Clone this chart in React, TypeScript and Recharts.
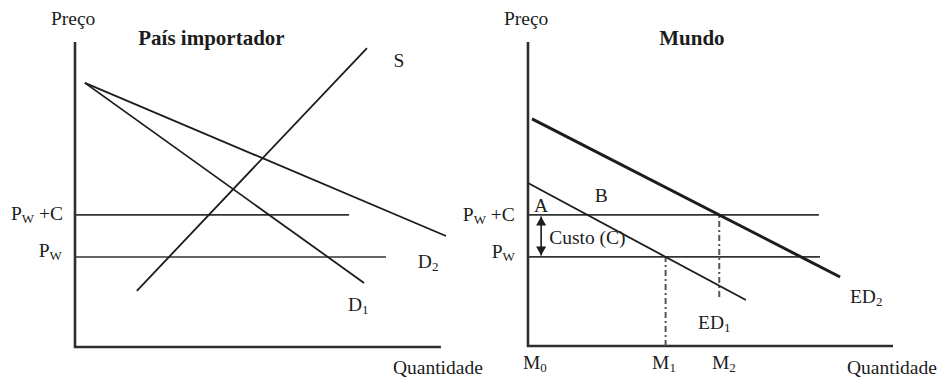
import React from 'react';
import { LineChart, Line, XAxis, YAxis, ReferenceDot } from 'recharts';

// ---------- Left panel: País importador (q = quantity, p = price) ----------
const leftAxes = [{ q: 0, p: 100 }, { q: 0, p: 0 }, { q: 100, p: 0 }];
const leftSupply = [{ q: 16.9, p: 18.4 }, { q: 79.8, p: 98.0 }];
const leftD1 = [{ q: 2.7, p: 86.6 }, { q: 79.0, p: 21.0 }];
const leftD2 = [{ q: 2.7, p: 86.6 }, { q: 101.4, p: 36.4 }];
const leftPwC = [{ q: 0, p: 43.3 }, { q: 74.9, p: 43.3 }];
const leftPw = [{ q: 0, p: 29.5 }, { q: 85, p: 29.5 }];

// ---------- Right panel: Mundo ----------
const rightAxes = [{ q: 0, p: 100 }, { q: 0, p: 0 }, { q: 100, p: 0 }];
const rightED2 = [{ q: 1.1, p: 74.7 }, { q: 85.5, p: 22.7 }];
const rightED1 = [{ q: 0, p: 53.6 }, { q: 59.7, p: 15.1 }];
const rightPwC = [{ q: 0, p: 43.1 }, { q: 79.7, p: 43.1 }];
const rightPw = [{ q: 0, p: 29.3 }, { q: 80, p: 29.3 }];
const rightM1 = [{ q: 37.7, p: 0 }, { q: 37.7, p: 29.3 }];
const rightM2 = [{ q: 52.4, p: 16.1 }, { q: 52.4, p: 43.1 }];
const rightCost = [{ q: 3.6, p: 42.6 }, { q: 3.6, p: 29.8 }];

// ---------- Text labels (anchored in data units) ----------
type Lbl = { main: string; sub?: string; rest?: string; q: number; p: number; anchor: 'start' | 'middle' | 'end'; bold?: boolean };

const leftLabels: Lbl[] = [
  { main: 'Preço', q: -0.5, p: 105.6, anchor: 'middle' },
  { main: 'País importador', q: 37.3, p: 99.0, anchor: 'middle', bold: true },
  { main: 'S', q: 88.5, p: 91.8, anchor: 'middle' },
  { main: 'D', sub: '1', q: 74.6, p: 11.8, anchor: 'start' },
  { main: 'D', sub: '2', q: 93.7, p: 25.9, anchor: 'start' },
  { main: 'P', sub: 'W', rest: ' +C', q: -3.3, p: 41.6, anchor: 'end' },
  { main: 'P', sub: 'W', q: -3.6, p: 29.5, anchor: 'end' },
  { main: 'Quantidade', q: 86.9, p: -8.9, anchor: 'start' },
];

const rightLabels: Lbl[] = [
  { main: 'Preço', q: -0.5, p: 105.6, anchor: 'middle' },
  { main: 'Mundo', q: 44.9, p: 99.0, anchor: 'middle', bold: true },
  { main: 'P', sub: 'W', rest: ' +C', q: -3.6, p: 41.1, anchor: 'end' },
  { main: 'P', sub: 'W', q: -3.6, p: 28.9, anchor: 'end' },
  { main: 'A', q: 3.6, p: 44.1, anchor: 'middle' },
  { main: 'B', q: 20.1, p: 47.4, anchor: 'middle' },
  { main: 'Custo (C)', q: 5.8, p: 33.6, anchor: 'start' },
  { main: 'ED', sub: '2', q: 88.2, p: 14.1, anchor: 'start' },
  { main: 'ED', sub: '1', q: 46.6, p: 5.6, anchor: 'start' },
  { main: 'M', sub: '0', q: -1.4, p: -7.7, anchor: 'start' },
  { main: 'M', sub: '1', q: 34.0, p: -7.7, anchor: 'start' },
  { main: 'M', sub: '2', q: 50.4, p: -7.7, anchor: 'start' },
  { main: 'Quantidade', q: 87.4, p: -9.2, anchor: 'start' },
];

const FONT = '"Liberation Serif", "Times New Roman", serif';
const INK = '#1c1c1c';

const labelShape = (l: Lbl) => (props: any) => {
  const { cx, cy } = props;
  return (
    <text
      x={cx}
      y={cy}
      textAnchor={l.anchor}
      fontFamily={FONT}
      fontSize={l.bold ? 21 : 19.5}
      fontWeight={l.bold ? 'bold' : 'normal'}
      fill={INK}
    >
      {l.main}
      {l.sub ? (
        <tspan fontSize={13} dy={3}>
          {l.sub}
        </tspan>
      ) : null}
      {l.rest ? <tspan dy={-3}>{l.rest}</tspan> : null}
    </text>
  );
};

const arrowDot = (props: any) => {
  const { cx, cy, index } = props;
  if (cx == null || cy == null) return <g key={`a${index}`} />;
  const d = index === 0
    ? `M${cx},${cy} L${cx - 5},${cy + 9} L${cx + 5},${cy + 9} Z`
    : `M${cx},${cy} L${cx - 5},${cy - 9} L${cx + 5},${cy - 9} Z`;
  return <path key={`a${index}`} d={d} fill={INK} stroke="none" />;
};

const seg = (key: string, data: any[], width: number, color = INK, dash?: string, dot: any = false) => (
  <Line
    key={key}
    data={data}
    dataKey="p"
    type="linear"
    stroke={color}
    strokeWidth={width}
    strokeDasharray={dash}
    dot={dot}
    activeDot={false}
    isAnimationActive={false}
    strokeLinecap="butt"
  />
);

const W = 472;
const H = 377;

function Panel({ xDomain, yDomain, children, labels }: any) {
  return (
    <LineChart width={W} height={H} margin={{ top: 0, right: 0, bottom: 0, left: 0 }}>
      <XAxis type="number" dataKey="q" domain={xDomain} allowDataOverflow hide />
      <YAxis type="number" dataKey="p" domain={yDomain} allowDataOverflow hide />
      {children}
      {labels.map((l: Lbl, i: number) => (
        <ReferenceDot key={`l${i}`} x={l.q} y={l.p} r={0} ifOverflow="visible" shape={labelShape(l)} />
      ))}
    </LineChart>
  );
}

export default function App() {
  return (
    <div style={{ position: 'absolute', left: 0, top: 0, width: 944, height: 377, display: 'flex', background: '#fff', overflow: 'hidden' }}>
      <style>{`.recharts-surface{overflow:visible !important;} .recharts-wrapper{overflow:visible !important;}`}</style>
      <Panel xDomain={[-20.5, 108.5]} yDomain={[-9.84, 113.77]} labels={leftLabels}>
        {seg('lax', leftAxes, 2.6, '#2e2e2e')}
        {seg('lpwc', leftPwC, 1.7, '#333')}
        {seg('lpw', leftPw, 1.7, '#333')}
        {seg('ls', leftSupply, 1.8)}
        {seg('ld1', leftD1, 1.8)}
        {seg('ld2', leftD2, 1.8)}
      </Panel>
      <Panel xDomain={[-15.34, 113.97]} yDomain={[-10.2, 113.8]} labels={rightLabels}>
        {seg('rax', rightAxes, 2.6, '#2e2e2e')}
        {seg('rpwc', rightPwC, 1.7, '#333')}
        {seg('rpw', rightPw, 1.7, '#333')}
        {seg('rm1', rightM1, 2, '#555', '6 3 2 3')}
        {seg('rm2', rightM2, 2, '#555', '6 3 2 3')}
        {seg('red1', rightED1, 1.8)}
        {seg('red2', rightED2, 3)}
        {seg('rcost', rightCost, 1.6, INK, undefined, arrowDot)}
      </Panel>
    </div>
  );
}
